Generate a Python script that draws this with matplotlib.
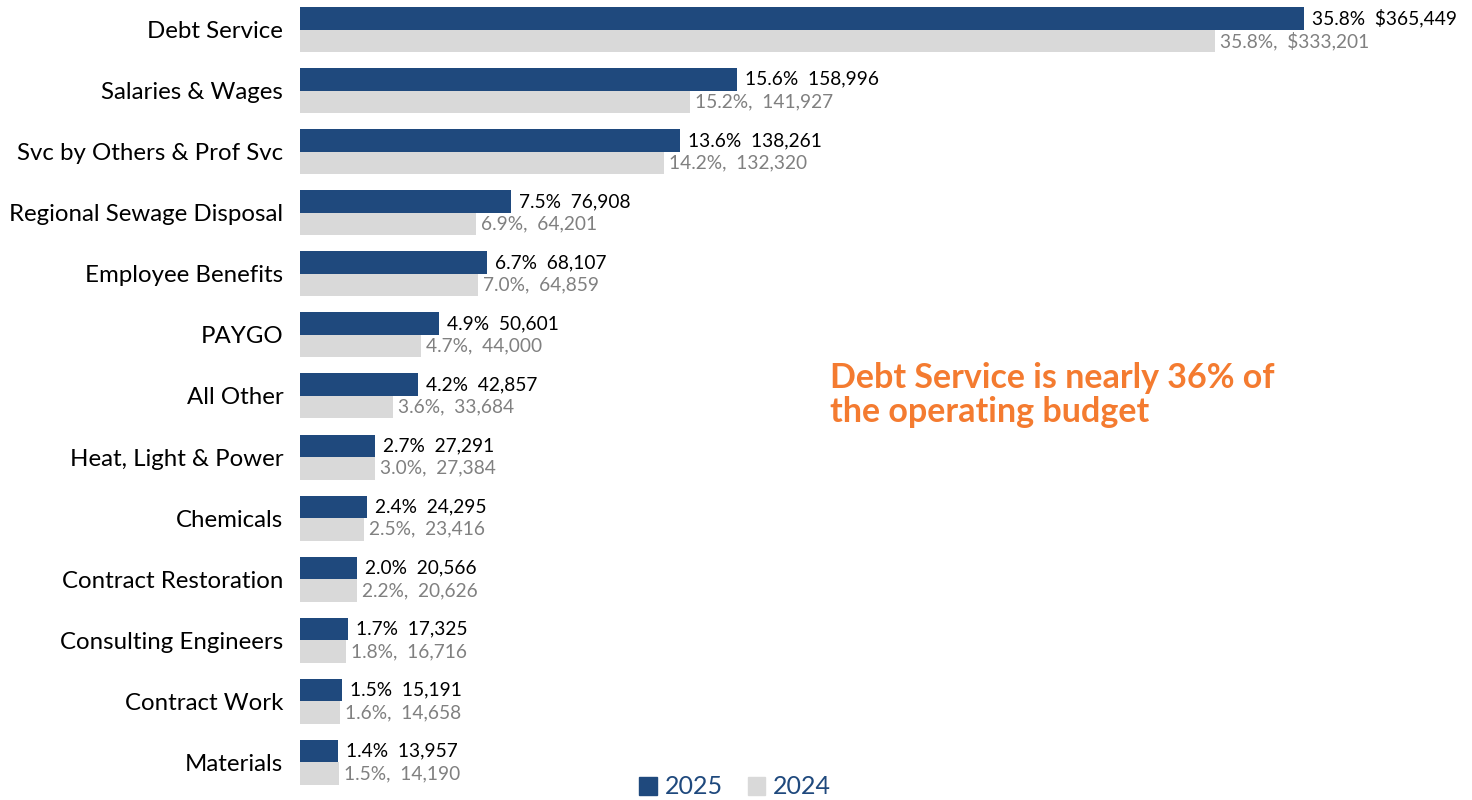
import numpy as np
import matplotlib
matplotlib.use("Agg")

import matplotlib.pyplot as plt
from matplotlib.patches import Patch


# =====================================================
# DATA
# =====================================================

categories = [
    "Debt Service",
    "Salaries & Wages",
    "Svc by Others & Prof Svc",
    "Regional Sewage Disposal",
    "Employee Benefits",
    "PAYGO",
    "All Other",
    "Heat, Light & Power",
    "Chemicals",
    "Contract Restoration",
    "Consulting Engineers",
    "Contract Work",
    "Materials",
]

values_2025 = [365449, 158996, 138261, 76908, 68107, 50601, 42857,
               27291, 24295, 20566, 17325, 15191, 13957]
pct_2025 = [35.8, 15.6, 13.6, 7.5, 6.7, 4.9, 4.2, 2.7, 2.4, 2.0, 1.7, 1.5, 1.4]

values_2024 = [333201, 141927, 132320, 64201, 64859, 44000, 33684,
               27384, 23416, 20626, 16716, 14658, 14190]
pct_2024 = [35.8, 15.2, 14.2, 6.9, 7.0, 4.7, 3.6, 3.0, 2.5, 2.2, 1.8, 1.6, 1.5]

BLUE = "#1F497D"
GRAY = "#D9D9D9"
LABEL_GRAY = "#808080"
ORANGE = "#F47B30"

plt.rcParams["font.family"] = ["Lato", "DejaVu Sans"]


# =====================================================
# FIGURE
# =====================================================

fig = plt.figure(figsize=(14.72, 8), dpi=100)
ax = fig.add_axes([300 / 1472, 0, 1172 / 1472, 1])

y = np.arange(len(categories))
bar_h = 0.368

ax.barh(y - bar_h / 2, values_2025, height=bar_h, color=BLUE)
ax.barh(y + bar_h / 2, values_2024, height=bar_h, color=GRAY)

ax.set_xlim(0, 426600)
ax.set_ylim(12.615, -0.483)

ax.set_yticks(y)
ax.set_yticklabels(categories, fontsize=17.3)
ax.tick_params(axis="y", length=0, pad=12)
ax.set_xticks([])

for spine in ax.spines.values():
    spine.set_visible(False)

# value labels
for i in range(len(categories)):
    if i == 0:
        t25 = f"{pct_2025[i]:.1f}%  ${values_2025[i]:,}"
        t24 = f"{pct_2024[i]:.1f}%,  ${values_2024[i]:,}"
    else:
        t25 = f"{pct_2025[i]:.1f}%  {values_2025[i]:,}"
        t24 = f"{pct_2024[i]:.1f}%,  {values_2024[i]:,}"

    ax.annotate(
        t25,
        xy=(values_2025[i], y[i] - bar_h / 2),
        xytext=(8, 0),
        textcoords="offset pixels",
        va="center",
        ha="left",
        fontsize=13.8,
        color="black"
    )

    ax.annotate(
        t24,
        xy=(values_2024[i], y[i] + bar_h / 2),
        xytext=(5, 0),
        textcoords="offset pixels",
        va="center",
        ha="left",
        fontsize=13.8,
        color=LABEL_GRAY
    )

# callout
fig.text(
    830 / 1472,
    1 - 395 / 800,
    "Debt Service is nearly 36% of\nthe operating budget",
    fontsize=24.5,
    fontweight="bold",
    color=ORANGE,
    ha="left",
    va="center",
    linespacing=1.1
)

# legend
handles = [
    Patch(color=BLUE, label="2025"),
    Patch(color=GRAY, label="2024"),
]

leg = fig.legend(
    handles=handles,
    loc="center",
    bbox_to_anchor=(735 / 1472, 1 - 787 / 800),
    ncol=2,
    frameon=False,
    fontsize=18,
    handlelength=0.7,
    handleheight=0.7,
    handletextpad=0.3,
    columnspacing=1.0
)

for text in leg.get_texts():
    text.set_color(BLUE)

fig.savefig("out.png", dpi=100)
